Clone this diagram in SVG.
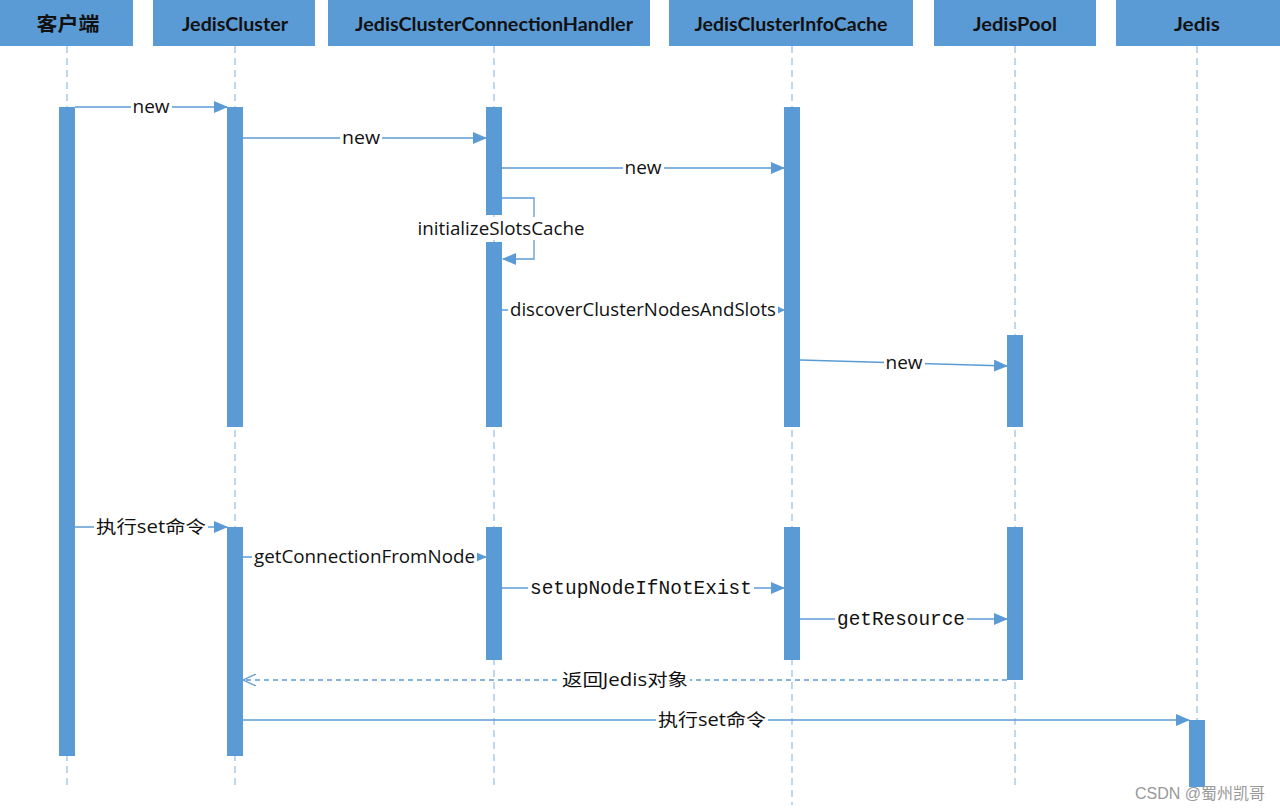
<svg xmlns="http://www.w3.org/2000/svg" width="1280" height="811" viewBox="0 0 1280 811">
<style>
.hd{fill:#5B9BD5}
.ht{font-family:Lato,"Noto Sans CJK SC",sans-serif;font-weight:bold;font-size:19.5px;fill:#111;text-anchor:middle}
.ll{stroke:#9DC3E6;stroke-width:1.3;stroke-dasharray:7,5;fill:none}
.act{fill:#5B9BD5}
.msg{stroke:#5B9BD5;stroke-width:1.3;fill:none}
.ret{stroke:#5B9BD5;stroke-width:1.3;stroke-dasharray:5,4;fill:none}
.lt{font-family:"Open Sans","Noto Sans CJK SC",sans-serif;font-size:17.5px;fill:#111;text-anchor:middle}
.mono{font-family:"Liberation Mono",monospace;font-size:19.5px;fill:#111;text-anchor:middle}
.bg{fill:#fff}
</style>
<defs>
<marker id="ar" markerWidth="14" markerHeight="12" refX="13" refY="6" orient="auto" markerUnits="userSpaceOnUse"><path d="M0,0 L14,6 L0,12 Z" fill="#5B9BD5"/></marker>
<marker id="ars" markerWidth="8" markerHeight="8" refX="7" refY="4" orient="auto" markerUnits="userSpaceOnUse"><path d="M0,0 L8,4 L0,8 Z" fill="#5B9BD5"/></marker>
<marker id="aro" markerWidth="14" markerHeight="12" refX="13" refY="6" orient="auto" markerUnits="userSpaceOnUse"><path d="M0,0 L13,6 L0,12" fill="none" stroke="#5B9BD5" stroke-width="1.3"/></marker>
</defs>
<rect width="1280" height="811" fill="#fff"/>
<g id="lifelines">
<line class="ll" x1="67" y1="46" x2="67" y2="785"/>
<line class="ll" x1="235" y1="46" x2="235" y2="785"/>
<line class="ll" x1="494" y1="46" x2="494" y2="785"/>
<line class="ll" x1="792" y1="46" x2="792" y2="805"/>
<line class="ll" x1="1015" y1="46" x2="1015" y2="785"/>
<line class="ll" x1="1197" y1="46" x2="1197" y2="790"/>
</g>
<g id="client"><rect class="hd" x="0" y="0" width="133" height="46"/><text class="ht" x="68" y="31" textLength="63" lengthAdjust="spacingAndGlyphs">客户端</text><rect class="act" x="59" y="107" width="16" height="649"/></g>
<g id="jedisCluster"><rect class="hd" x="153" y="0" width="162" height="46"/><text class="ht" x="235" y="31" textLength="106" lengthAdjust="spacingAndGlyphs">JedisCluster</text><rect class="act" x="227" y="107" width="16" height="320"/><rect class="act" x="227" y="527" width="16" height="229"/></g>
<g id="handler"><rect class="hd" x="328" y="0" width="322" height="46"/><text class="ht" x="494" y="31" textLength="278" lengthAdjust="spacingAndGlyphs">JedisClusterConnectionHandler</text><rect class="act" x="486" y="107" width="16" height="108"/><rect class="act" x="486" y="242" width="16" height="185"/><rect class="act" x="486" y="527" width="16" height="133"/></g>
<g id="infoCache"><rect class="hd" x="669" y="0" width="244" height="46"/><text class="ht" x="791" y="31" textLength="193" lengthAdjust="spacingAndGlyphs">JedisClusterInfoCache</text><rect class="act" x="784" y="107" width="16" height="320"/><rect class="act" x="784" y="527" width="16" height="133"/></g>
<g id="jedisPool"><rect class="hd" x="934" y="0" width="162" height="46"/><text class="ht" x="1015" y="31" textLength="84" lengthAdjust="spacingAndGlyphs">JedisPool</text><rect class="act" x="1007" y="335" width="16" height="92"/><rect class="act" x="1007" y="527" width="16" height="153"/></g>
<g id="jedis"><rect class="hd" x="1116" y="0" width="164" height="46"/><text class="ht" x="1197" y="31" textLength="46" lengthAdjust="spacingAndGlyphs">Jedis</text><rect class="act" x="1189" y="720" width="16" height="67"/></g>
<g id="connectors">
<line class="msg" x1="75" y1="107" x2="227" y2="107" marker-end="url(#ar)"/>
<rect class="bg" x="131" y="97" width="41" height="19"/><text class="lt" x="151" y="113" textLength="37" lengthAdjust="spacingAndGlyphs">new</text>
<line class="msg" x1="243" y1="138" x2="486" y2="138" marker-end="url(#ar)"/>
<rect class="bg" x="340" y="128" width="42" height="19"/><text class="lt" x="361" y="144" textLength="38" lengthAdjust="spacingAndGlyphs">new</text>
<line class="msg" x1="502" y1="168" x2="784" y2="168" marker-end="url(#ar)"/>
<rect class="bg" x="623" y="158" width="41" height="19"/><text class="lt" x="643" y="174" textLength="37" lengthAdjust="spacingAndGlyphs">new</text>
<path class="msg" d="M502,198 H534 V259 H503" marker-end="url(#ar)"/>
<rect class="bg" x="416" y="217" width="171" height="23"/><text class="lt" x="501" y="235" textLength="167" lengthAdjust="spacingAndGlyphs">initializeSlotsCache</text>
<line class="msg" x1="502" y1="310" x2="784" y2="310" marker-end="url(#ars)"/>
<rect class="bg" x="508" y="299" width="270" height="22"/><text class="lt" x="643" y="316" textLength="266" lengthAdjust="spacingAndGlyphs">discoverClusterNodesAndSlots</text>
<line class="msg" x1="800" y1="360" x2="1007" y2="366" marker-end="url(#ar)"/>
<rect class="bg" x="884" y="353" width="41" height="19"/><text class="lt" x="904" y="369" textLength="37" lengthAdjust="spacingAndGlyphs">new</text>
<line class="msg" x1="75" y1="527" x2="227" y2="527" marker-end="url(#ar)"/>
<rect class="bg" x="94" y="515" width="114" height="23"/><text class="lt" x="151" y="533" textLength="110" lengthAdjust="spacingAndGlyphs">执行set命令</text>
<line class="msg" x1="243" y1="557" x2="486" y2="557" marker-end="url(#ar)"/>
<rect class="bg" x="252" y="546" width="225" height="22"/><text class="lt" x="364.5" y="563" textLength="221" lengthAdjust="spacingAndGlyphs">getConnectionFromNode</text>
<line class="msg" x1="502" y1="588" x2="784" y2="588" marker-end="url(#ar)"/>
<rect class="bg" x="528" y="577" width="226" height="22"/><text class="mono" x="641" y="594" textLength="222" lengthAdjust="spacingAndGlyphs">setupNodeIfNotExist</text>
<line class="msg" x1="800" y1="619" x2="1007" y2="619" marker-end="url(#ar)"/>
<rect class="bg" x="835" y="608" width="132" height="22"/><text class="mono" x="901" y="625" textLength="128" lengthAdjust="spacingAndGlyphs">getResource</text>
<line class="ret" x1="1007" y1="680" x2="243" y2="680" marker-end="url(#aro)"/>
<rect class="bg" x="560" y="668" width="130" height="23"/><text class="lt" x="625" y="686" textLength="126" lengthAdjust="spacingAndGlyphs">返回Jedis对象</text>
<line class="msg" x1="243" y1="720" x2="1189" y2="720" marker-end="url(#ar)"/>
<rect class="bg" x="656" y="708" width="112" height="23"/><text class="lt" x="712" y="726" textLength="108" lengthAdjust="spacingAndGlyphs">执行set命令</text>
</g>
<text x="1265" y="799" font-family="'Liberation Sans','Noto Sans CJK SC',sans-serif" font-size="16" fill="#999" text-anchor="end">CSDN @蜀州凯哥</text>
</svg>
